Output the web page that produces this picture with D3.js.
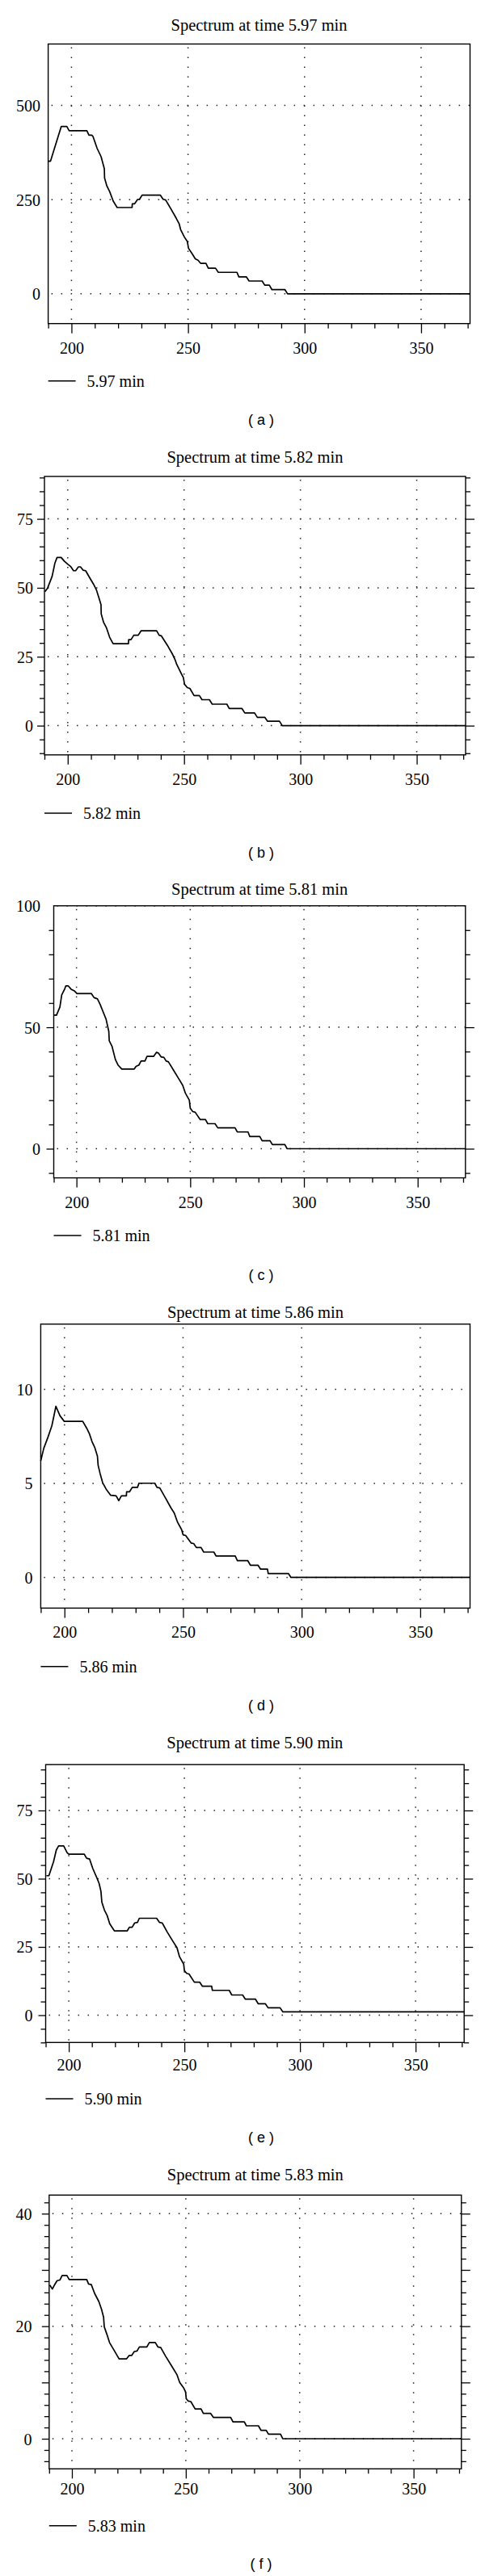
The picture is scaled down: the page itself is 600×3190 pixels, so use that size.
<!DOCTYPE html>
<html>
<head>
<meta charset="utf-8">
<script src="https://cdn.jsdelivr.net/npm/d3@7"></script>
<style>
body{margin:0;background:#fff}
svg{display:block}
</style>
</head>
<body>
<svg id="chart"></svg>
<script>
var screen = {width:600,height:3190}

// wavelength axis (nm)
var xDomain = [190,371]
var xLabels = [200,250,300,350]
var xMinor = d3.range(190,371,10)

var times = ["5.97","5.82","5.81","5.86","5.90","5.83"]
var letters = ["a","b","c","d","e","f"]

// spectra: [wavelength, absorbance]
var specA = [[190,352],[191,352],[195.6,444],[198,444],[199,433],[206.6,433],[207.5,421],[208.7,421],[209.2,418],[211,386],[212.7,364],[214.1,332],[214.2,307],[215.2,286],[216.4,271],[217.9,246],[219.6,229],[226,229],[226.1,239],[227.1,239],[228.3,250],[229.2,251],[230.3,262],[238.1,262],[239.3,251],[240.4,249],[242.7,225],[245,200],[246.2,186],[246.8,171],[248.5,150],[249.7,139],[250.2,121],[252,104],[253.1,93],[254.3,89],[255.4,81],[257.7,81],[258.7,68],[261.8,68],[263,57],[271,57],[271.8,45],[275,45],[276.2,34],[281.8,34],[282.9,23],[284.9,23],[286,11],[291.6,11],[292.7,0],[371,0]]
var specB = [[190.2,48.6],[191.3,49.8],[193.3,54.2],[194.5,59],[195.4,61],[197.2,61],[198.6,59.6],[200,58.6],[201.2,57.8],[202.5,56.2],[203.4,56.2],[204.6,57.6],[205.5,57.6],[206.6,56.4],[207.7,56.2],[209.4,53.7],[211.1,51.3],[212.3,49.3],[213.4,46.4],[214.3,43.9],[214.4,40.5],[215.4,37.5],[216.6,35.6],[218,32.1],[219.5,29.7],[226.1,29.7],[226.2,31.2],[227.2,31.2],[228.4,32.8],[230.3,32.8],[231.5,34.4],[238.2,34.4],[239.3,32.8],[240.2,32.6],[242.8,29.2],[245.1,25.8],[246.2,23.8],[246.8,22.3],[248.5,19.4],[249.7,17.4],[250.2,15],[251.4,13.8],[252.5,13.5],[254.3,10.9],[256.6,10.9],[257.7,9.4],[260.9,9.4],[262.1,7.8],[268.4,7.8],[269.4,6.2],[274.9,6.2],[276.1,4.6],[280.3,4.6],[281.5,3],[284.7,3],[285.9,1.6],[291,1.6],[292.2,0],[371,0]]
var specC = [[190.2,55],[191.2,55],[192.7,58.3],[193.5,63.3],[194.7,65.5],[195.3,67],[196.4,67],[197.6,65.7],[199,65],[200.2,63.9],[206.5,63.9],[207.7,62.2],[209.2,61.7],[210.4,59.4],[211.8,56.1],[213,53.3],[214.2,48.3],[214.4,44.4],[215.6,42.2],[217.1,36.7],[218.3,34.4],[219.9,32.8],[225.4,32.8],[226.2,33.9],[227.4,34.4],[228.4,36.1],[230.1,36.1],[231,38],[233.9,38],[235.2,39.7],[236,39.4],[237.2,37.8],[238.4,37.6],[239.4,36.1],[240.4,35.8],[242.6,32.4],[244.9,28.9],[246.7,26.1],[247.9,22.8],[249.6,20],[250,16.7],[251.1,15.3],[252.2,15],[254.4,12],[256.7,12],[257.7,10.3],[260.9,10.3],[262.1,8.6],[269.7,8.6],[270.7,6.9],[275.4,6.9],[276.2,5],[280.6,5],[281.6,3.3],[285.1,3.3],[286.1,1.7],[291.6,1.7],[292.6,0],[371,0]]
var specD = [[190,6.2],[191.3,6.87],[193,7.44],[194.7,8.07],[196.4,9.1],[198.1,8.6],[199.9,8.3],[207.7,8.3],[209.4,7.93],[210.5,7.65],[211.6,7.23],[212.8,6.9],[213.9,6.45],[214.2,5.96],[215,5.54],[216.1,5.04],[217.6,4.69],[219.5,4.37],[221.8,4.34],[222.9,4.08],[224,4.34],[226.1,4.34],[226.2,4.55],[227.4,4.55],[228.6,4.79],[230.8,4.79],[231.4,5.01],[238.1,5.01],[239,4.79],[240.2,4.76],[242.7,4.2],[244.9,3.7],[246.3,3.42],[247.7,2.93],[249.4,2.54],[250,2.27],[251.1,2.23],[253.4,1.83],[254.5,1.8],[255.6,1.59],[257.6,1.59],[258.7,1.35],[263,1.35],[263.9,1.14],[272,1.14],[272.9,0.89],[277.3,0.89],[278.4,0.65],[281.6,0.65],[282.7,0.44],[285.6,0.44],[285.9,0.21],[294.4,0.21],[295.5,0],[371,0]]
var specE = [[190.3,51.1],[191.4,51.1],[193.4,56.2],[194.6,60.5],[195.6,62],[197.8,62],[199.3,59.5],[200,59],[206.7,59],[207.7,57.5],[209,57.2],[210.4,53.7],[211.9,50.8],[213.1,48.3],[213.9,45.4],[214.3,41.4],[215.4,38.5],[216.6,36.5],[217.7,33.5],[219.7,30.9],[225.3,30.9],[226.2,32.2],[227.4,32.2],[228.5,33.8],[229.7,34],[230.5,35.5],[238,35.5],[239.2,34],[240.4,33.8],[242.7,30.3],[245,27.1],[246.8,24.7],[247.9,21.4],[249.7,18.7],[250,16.3],[251,15.3],[252,15.1],[254.3,12.1],[256.6,12.1],[257.8,10.6],[261.8,10.6],[262.1,9.1],[269.4,9.1],[270.5,7.4],[275.2,7.4],[276.3,5.9],[280.7,5.9],[281.9,4.2],[285,4.2],[286.2,2.7],[291.4,2.7],[292.6,1.2],[371,1.2]]
var specF = [[190.3,27.3],[191.4,26.6],[192.3,27.3],[193.5,28.1],[194.7,28.2],[195.7,29],[197.8,29],[198.8,28.3],[206.5,28.3],[207.3,27.5],[208.5,27.4],[210,25.8],[211.8,24.4],[213,23],[213.9,21.6],[214.2,19.9],[215.4,18.5],[216.5,17.1],[218.7,15.6],[220.7,14.2],[224,14.2],[225.1,14.8],[226.2,14.8],[227.4,15.5],[228.6,15.6],[229.6,16.3],[232.9,16.3],[234,17.1],[236.6,17.1],[237.8,16.3],[239,16.2],[241.1,14.7],[243.7,13],[246.1,11.4],[247.3,10],[249.1,9],[249.9,8.3],[250.2,7.1],[251.1,6.7],[252.2,6.6],[254.1,5.3],[256.7,5.3],[257.7,4.5],[260.9,4.5],[262.1,3.8],[269.7,3.8],[270.7,3],[275.7,3],[276.6,2.3],[281.9,2.3],[283,1.5],[285.3,1.5],[286.3,0.8],[291.6,0.8],[292.6,0],[371,0]]

// y axes
var yLabelsA = [0,250,500]
var yLabelsB = [0,25,50,75]
var yLabelsC = [0,50,100]
var yLabelsD = [0,5,10]
var yLabelsE = [0,25,50,75]
var yLabelsF = [0,20,40]

var yRangeA = [-79,663]
var yRangeB = [-10.6,90.4]
var yRangeC = [-12,100]
var yRangeD = [-1.63,13.47]
var yRangeE = [-10,91.8]
var yRangeF = [-5.35,43.3]

// minor tick step on the y axis (0 = none)
var yStep = [0,5,10,0,5,2]

var spectra = [specA,specB,specC,specD,specE,specF]
var yLabels = [yLabelsA,yLabelsB,yLabelsC,yLabelsD,yLabelsE,yLabelsF]
var yRanges = [yRangeA,yRangeB,yRangeC,yRangeD,yRangeE,yRangeF]

// where each panel sits on the page
var layout = [
    {top:54.5,bottom:400.7,left:59.6,right:581.5,title:31,xlab:431,legend:471.7,sub:520,ylab:50},
    {top:590,bottom:934.8,left:55,right:576,title:566,xlab:965,legend:1007,sub:1056,ylab:41},
    {top:1121.7,bottom:1458.6,left:66.5,right:575.8,title:1101,xlab:1489,legend:1530,sub:1578.6,ylab:50},
    {top:1639.7,bottom:1991.4,left:50.4,right:581.5,title:1624.8,xlab:2021,legend:2063.8,sub:2112,ylab:40.4},
    {top:2185.2,bottom:2529.3,left:56.5,right:574.2,title:2158.3,xlab:2557,legend:2599,sub:2647,ylab:40.4},
    {top:2718.3,bottom:3057.3,left:60.8,right:570.8,title:2692.9,xlab:3082,legend:3127.8,sub:3175,ylab:39.6}
]

var serif = "'Liberation Serif','Times New Roman',serif"

d3.select("#chart")
    .attr("width",screen.width)
    .attr("height",screen.height)

var drawPanel = function(i)
{
    var box = layout[i]
    var g = d3.select("#chart").append("g").attr("id","panel"+letters[i])

    var xScale = d3.scaleLinear()
        .domain(xDomain)
        .range([box.left,box.right])
    var yScale = d3.scaleLinear()
        .domain(yRanges[i])
        .range([box.bottom,box.top])

    //dotted grid
    g.selectAll(".vgrid")
        .data(xLabels)
        .enter()
        .append("line")
        .attr("class","vgrid")
        .attr("x1",function(d){return xScale(d)})
        .attr("x2",function(d){return xScale(d)})
        .attr("y1",box.top+4)
        .attr("y2",box.bottom)
        .attr("stroke","#222")
        .attr("stroke-width",1.5)
        .attr("stroke-dasharray","1.5,10.5")
    g.selectAll(".hgrid")
        .data(yLabels[i])
        .enter()
        .append("line")
        .attr("class","hgrid")
        .attr("x1",box.left+4)
        .attr("x2",box.right)
        .attr("y1",function(d){return yScale(d)})
        .attr("y2",function(d){return yScale(d)})
        .attr("stroke","#222")
        .attr("stroke-width",1.5)
        .attr("stroke-dasharray","1.5,10.5")

    //x axis ticks + labels
    var xAxis = d3.axisBottom(xScale)
        .tickValues(xMinor)
        .tickSize(6)
        .tickFormat(function(d){return xLabels.indexOf(d)>=0 ? d : ""})
    var xg = g.append("g")
        .attr("transform","translate(0,"+box.bottom+")")
        .call(xAxis)
    xg.select(".domain").remove()
    xg.selectAll("line")
        .attr("stroke","#000")
        .attr("stroke-width",1.3)
        .attr("y2",function(d){return xLabels.indexOf(d)>=0 ? 12 : 6})
    xg.selectAll("text")
        .attr("y",box.xlab-box.bottom)
        .attr("dy","0.35em")
        .attr("fill","#000")
        .style("font-family",serif)
        .style("font-size","20px")

    //y minor ticks on both sides
    if(yStep[i]>0)
    {
        var r = yRanges[i]
        var minor = d3.range(Math.ceil(r[0]/yStep[i])*yStep[i], r[1], yStep[i])
        var isMajor = function(d){return Math.abs(d % (yLabels[i][1]-yLabels[i][0])) < 1e-6 || (yStep[i]==2 && d%10==0)}
        var left = g.append("g")
            .attr("transform","translate("+box.left+",0)")
            .call(d3.axisLeft(yScale).tickValues(minor).tickSize(6).tickFormat(""))
        var right = g.append("g")
            .attr("transform","translate("+box.right+",0)")
            .call(d3.axisRight(yScale).tickValues(minor).tickSize(6).tickFormat(""))
        left.select(".domain").remove()
        right.select(".domain").remove()
        left.selectAll("line").attr("stroke","#000").attr("stroke-width",1.3)
            .attr("x2",function(d){return isMajor(d) ? -9 : -6})
        right.selectAll("line").attr("stroke","#000").attr("stroke-width",1.3)
            .attr("x2",function(d){return isMajor(d) ? 11 : 6})
    }

    //y labels
    var yg = g.append("g")
        .attr("transform","translate("+box.ylab+",0)")
        .call(d3.axisLeft(yScale).tickValues(yLabels[i]).tickSize(0).tickPadding(0))
    yg.select(".domain").remove()
    yg.selectAll("text")
        .attr("fill","#000")
        .attr("dy","0.35em")
        .style("font-family",serif)
        .style("font-size","20px")

    //frame
    g.append("rect")
        .attr("x",box.left)
        .attr("y",box.top)
        .attr("width",box.right-box.left)
        .attr("height",box.bottom-box.top)
        .attr("fill","none")
        .attr("stroke","#000")
        .attr("stroke-width",1.4)

    //spectrum
    var line = d3.line()
        .x(function(d){return xScale(d[0])})
        .y(function(d){return yScale(d[1])})
    g.append("path")
        .datum(spectra[i])
        .attr("d",line)
        .attr("fill","none")
        .attr("stroke","#000")
        .attr("stroke-width",1.7)
        .attr("stroke-linejoin","round")

    //title
    g.append("text")
        .attr("x",(box.left+box.right)/2)
        .attr("y",box.title)
        .attr("dy","0.35em")
        .attr("text-anchor","middle")
        .style("font-family",serif)
        .style("font-size","20.5px")
        .text("Spectrum at time "+times[i]+" min")

    //legend
    g.append("line")
        .attr("x1",box.left)
        .attr("x2",box.left+34)
        .attr("y1",box.legend)
        .attr("y2",box.legend)
        .attr("stroke","#000")
        .attr("stroke-width",1.5)
    g.append("text")
        .attr("x",box.left+48)
        .attr("y",box.legend)
        .attr("dy","0.35em")
        .style("font-family",serif)
        .style("font-size","20px")
        .text(times[i]+" min")

    //sub label
    g.append("text")
        .attr("x",323)
        .attr("y",box.sub)
        .attr("dy","0.35em")
        .attr("text-anchor","middle")
        .style("font-family","'Liberation Sans',Arial,sans-serif")
        .style("font-size","18px")
        .text("( "+letters[i]+" )")
}

for(var i=0;i<6;i++){ drawPanel(i) }
</script>
</body>
</html>
